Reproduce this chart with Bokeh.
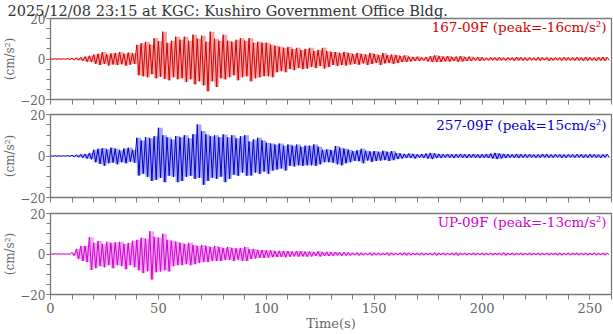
from bokeh.plotting import figure
from bokeh.layouts import column
from bokeh.models import Label, Range1d, FixedTicker
from bokeh.embed import file_html
from bokeh.resources import INLINE

# ---------------- data ----------------
TITLE = "2025/12/08 23:15 at KGC: Kushiro Government Office Bldg."
X_TICKS = [0, 50, 100, 150, 200, 250]
X_MINOR = list(range(0, 261, 10))
Y_TICKS = [-20, 0, 20]
Y_MINOR = list(range(-20, 21, 5))

# 2-second bins starting at t = 0, 2, ..., 258 s
bin_start = list(range(0, 260, 2))

ch1_name = "167-09F (peak=-16cm/s\u00b2)"
ch1_up = [0.1, 0.1, 0.1, 0.1, 0.2, 0.4, 0.6, 0.8, 1.2, 1.6,
          2.2, 2.6, 3.4, 2.4, 2.8, 3.0, 3.5, 2.6, 3.2, 2.8,
          7.0, 7.8, 8.5, 7.2, 10.3, 8.8, 13.5, 8.0, 9.0, 11.0,
          9.5, 11.0, 9.0, 12.0, 10.0, 11.5, 8.5, 13.5, 10.0, 9.0,
          12.0, 9.0, 8.5, 9.5, 10.3, 9.0, 10.3, 8.0, 8.5, 8.0,
          8.0, 7.0, 6.5, 6.0, 5.5, 6.0, 5.0, 5.5, 4.5, 5.0,
          5.5, 4.0, 4.5, 5.5, 4.0, 3.5, 3.5, 3.0, 3.5, 3.0,
          2.5, 3.0, 2.5, 2.2, 3.0, 2.5, 2.0, 3.0, 2.0, 2.2,
          2.0, 1.5, 1.8, 1.2, 1.0, 1.2, 0.8, 1.0, 1.5, 1.8,
          1.5, 1.2, 1.5, 1.0, 1.2, 1.5, 1.0, 1.2, 0.8, 1.0,
          0.8, 0.6, 0.8, 0.7, 0.9, 0.6, 0.8, 0.7, 1.0, 0.8,
          0.7, 0.8, 0.6, 0.9, 0.7, 0.8, 0.6, 0.8, 0.7, 0.9,
          0.8, 0.7, 0.9, 0.7, 1.0, 0.8, 0.7, 0.9, 1.0, 0.8]
ch1_lo = [-0.1, -0.1, -0.1, -0.1, -0.2, -0.4, -0.6, -0.9, -1.3, -1.5,
          -2.4, -3.0, -2.5, -3.2, -2.7, -3.0, -2.6, -3.3, -2.8, -2.5,
          -8.0, -8.5, -9.0, -7.5, -9.5, -8.8, -9.8, -10.5, -9.0, -10.0,
          -9.5, -11.4, -10.0, -12.5, -11.0, -13.0, -15.9, -11.0, -13.8, -9.5,
          -10.0, -9.0, -8.0, -10.5, -9.0, -8.5, -11.0, -9.5, -9.0, -8.5,
          -8.5, -9.0, -6.5, -6.0, -6.5, -5.0, -5.5, -4.5, -5.0, -4.7,
          -4.0, -4.5, -3.5, -4.7, -4.0, -3.0, -3.5, -3.0, -3.2, -2.8,
          -2.5, -2.8, -2.2, -3.0, -2.5, -2.0, -3.0, -2.2, -2.0, -2.5,
          -2.0, -1.5, -1.5, -1.2, -1.0, -1.0, -0.8, -1.2, -1.5, -1.5,
          -1.5, -1.2, -1.3, -1.0, -1.4, -1.2, -1.0, -1.0, -0.8, -1.0,
          -0.8, -0.7, -0.6, -0.8, -0.7, -0.8, -0.6, -0.9, -0.7, -0.8,
          -0.8, -0.6, -0.7, -0.8, -0.6, -0.9, -0.7, -0.6, -0.8, -0.7,
          -0.7, -0.8, -0.7, -0.9, -0.8, -0.7, -0.9, -0.8, -0.9, -0.7]

ch2_name = "257-09F (peak=15cm/s\u00b2)"
ch2_up = [0.1, 0.1, 0.1, 0.1, 0.2, 0.4, 0.6, 0.8, 1.0, 1.5,
          3.0, 3.5, 3.8, 3.2, 4.0, 3.5, 2.8, 3.6, 4.0, 3.0,
          8.8, 7.5, 9.0, 8.5, 9.5, 13.6, 10.0, 9.0, 8.0, 9.6,
          9.0, 10.0, 8.5, 10.5, 15.2, 12.0, 10.4, 9.5, 10.0, 9.0,
          10.4, 9.0, 10.0, 8.5, 9.5, 10.0, 7.0, 8.0, 8.8, 7.5,
          6.4, 6.0, 5.5, 6.0, 5.0, 5.6, 5.0, 5.5, 4.5, 5.0,
          5.0, 5.6, 4.5, 3.0, 3.2, 2.8, 4.8, 4.0, 3.5, 3.0,
          2.4, 2.8, 3.5, 2.5, 2.2, 2.4, 2.0, 2.5, 2.0, 2.4,
          1.5, 1.2, 1.0, 1.2, 1.0, 0.9, 1.0, 1.2, 1.5, 1.2,
          1.0, 0.9, 1.0, 0.8, 0.9, 1.0, 0.8, 0.9, 1.0, 0.8,
          0.9, 1.0, 1.2, 1.5, 1.2, 1.0, 0.9, 0.8, 1.0, 0.9,
          0.8, 0.9, 0.7, 0.8, 1.0, 0.8, 0.7, 0.9, 0.8, 0.7,
          0.8, 0.7, 0.9, 0.8, 0.7, 0.9, 0.8, 0.7, 0.8, 0.9]
ch2_lo = [-0.1, -0.1, -0.1, -0.1, -0.2, -0.4, -0.6, -0.8, -1.2, -1.6,
          -3.0, -3.8, -4.7, -3.5, -3.2, -4.0, -3.0, -3.5, -2.8, -3.2,
          -9.4, -8.5, -10.0, -12.0, -11.5, -10.5, -12.6, -9.5, -10.0, -12.6,
          -12.0, -10.0, -9.5, -11.0, -10.5, -13.9, -12.0, -10.5, -11.0, -10.0,
          -12.6, -11.0, -9.0, -9.5, -8.0, -9.5, -9.4, -8.0, -8.6, -7.5,
          -8.6, -7.0, -6.5, -6.0, -7.0, -4.7, -5.0, -4.5, -4.7, -4.5,
          -4.5, -4.7, -4.0, -3.0, -3.0, -3.2, -4.0, -4.5, -3.5, -3.0,
          -2.4, -2.5, -3.5, -2.2, -2.8, -2.4, -2.2, -2.0, -2.4, -2.0,
          -1.5, -1.2, -1.0, -1.0, -1.2, -0.9, -1.0, -1.2, -1.5, -1.0,
          -1.0, -0.8, -0.9, -1.0, -0.8, -0.9, -1.0, -0.8, -0.9, -1.0,
          -0.9, -1.0, -1.2, -1.5, -1.2, -1.0, -0.8, -0.9, -1.0, -0.8,
          -0.8, -0.7, -0.9, -0.8, -0.7, -0.9, -0.8, -0.7, -0.9, -0.8,
          -0.7, -0.8, -0.7, -0.9, -0.8, -0.7, -0.8, -0.9, -0.7, -0.8]

ch3_name = "UP-09F (peak=-13cm/s\u00b2)"
ch3_up = [0.1, 0.1, 0.1, 0.1, 0.1, 0.8, 2.5, 4.0, 4.0, 8.3,
          5.5, 6.4, 5.0, 6.0, 5.5, 5.8, 6.0, 5.0, 5.5, 6.5,
          7.0, 8.0, 7.5, 11.2, 8.5, 8.0, 10.0, 7.0, 6.5, 6.0,
          5.5, 5.0, 5.5, 4.5, 4.0, 4.5, 4.0, 3.5, 4.0, 3.5,
          3.0, 3.5, 3.0, 2.8, 3.0, 3.5, 2.5, 2.5, 2.0, 2.0,
          1.8, 1.8, 1.5, 1.6, 1.5, 1.5, 1.2, 1.5, 1.3, 1.2,
          1.2, 1.0, 1.3, 1.0, 1.1, 0.9, 1.0, 0.8, 0.9, 0.8,
          0.6, 0.7, 0.6, 0.5, 0.7, 0.6, 0.6, 0.5, 0.7, 0.6,
          0.5, 0.6, 0.7, 0.6, 0.5, 0.6, 0.6, 0.5, 0.6, 0.7,
          0.5, 0.6, 0.5, 0.6, 0.7, 0.5, 0.6, 0.5, 0.6, 0.5,
          0.6, 0.5, 0.6, 0.5, 0.6, 0.7, 0.5, 0.6, 0.5, 0.6,
          0.5, 0.6, 0.5, 0.6, 0.5, 0.6, 0.5, 0.6, 0.6, 0.5,
          0.6, 0.5, 0.6, 0.5, 0.6, 0.5, 0.6, 0.5, 0.6, 0.5]
ch3_lo = [-0.1, -0.1, -0.1, -0.1, -0.1, -0.8, -2.5, -3.5, -4.0, -7.9,
          -7.0, -6.0, -6.5, -5.5, -7.0, -5.5, -6.0, -7.5, -5.5, -6.5,
          -8.0, -9.4, -8.5, -12.6, -9.0, -8.6, -8.0, -8.6, -6.0, -5.5,
          -5.5, -5.0, -5.5, -5.0, -4.5, -4.0, -4.0, -3.5, -3.5, -3.5,
          -3.0, -3.0, -3.5, -2.8, -3.5, -3.5, -2.5, -2.2, -2.0, -2.0,
          -1.8, -1.6, -1.5, -1.5, -1.6, -1.4, -1.2, -1.3, -1.2, -1.3,
          -1.2, -1.0, -1.2, -1.0, -1.0, -0.9, -0.8, -0.9, -0.8, -0.8,
          -0.6, -0.7, -0.6, -0.5, -0.7, -0.6, -0.6, -0.5, -0.7, -0.6,
          -0.5, -0.6, -0.7, -0.6, -0.5, -0.6, -0.6, -0.5, -0.6, -0.7,
          -0.5, -0.6, -0.5, -0.6, -0.7, -0.5, -0.6, -0.5, -0.6, -0.5,
          -0.6, -0.5, -0.6, -0.5, -0.6, -0.7, -0.5, -0.6, -0.5, -0.6,
          -0.5, -0.6, -0.5, -0.6, -0.5, -0.6, -0.5, -0.6, -0.6, -0.5,
          -0.6, -0.5, -0.6, -0.5, -0.6, -0.5, -0.6, -0.5, -0.6, -0.5]

COLORS = ["#d40000", "#0000d0", "#d000d0"]

# ---------------- layout ----------------
FONT = "DejaVu Serif"
W = 613
LEFT = 50
RIGHT = 2
FRAME_H = 83
GRAY = "#7a7a7a"
TXT = "#666666"


def zigzag(starts, up, lo):
    xs, ys = [], []
    for t, a, b in zip(starts, up, lo):
        xs.extend([t, t + 1])
        ys.extend([a, b])
    return xs, ys


def make_panel(name, up, lo, color, top, bottom, first=False, last=False):
    p = figure(width=W, height=top + FRAME_H + bottom,
               x_range=Range1d(0, 260), y_range=Range1d(-20, 20),
               output_backend="svg", toolbar_location=None,
               min_border_left=LEFT, min_border_right=RIGHT,
               min_border_top=top, min_border_bottom=bottom)
    p.grid.visible = False
    p.outline_line_color = GRAY
    p.outline_line_width = 1.3
    p.background_fill_color = "white"
    p.border_fill_color = "white"

    # envelope band (each bin's min..max) plus the oscillating trace
    p.varea_step(x=bin_start, y1=lo, y2=up, fill_color=color, fill_alpha=0.35,
                 step_mode="after")
    xs, ys = zigzag(bin_start, up, lo)
    p.line(xs, ys, line_color=color, line_width=1)

    for ax in (p.xaxis[0], p.yaxis[0]):
        ax.axis_line_color = None
        ax.major_tick_line_color = GRAY
        ax.minor_tick_line_color = GRAY
        ax.major_tick_in = 0
        ax.minor_tick_in = 0
        ax.major_label_text_font = FONT
        ax.major_label_text_color = TXT
    p.xaxis.major_label_text_font_size = "13px"
    p.xaxis.major_label_standoff = 3
    p.xaxis.major_tick_out = 5
    p.xaxis.minor_tick_out = 5
    p.yaxis.major_label_text_font_size = "12px"
    p.yaxis.major_label_standoff = 1
    p.yaxis.major_tick_out = 4
    p.yaxis.minor_tick_out = 4
    p.yaxis.ticker = FixedTicker(ticks=Y_TICKS, minor_ticks=Y_MINOR)
    p.yaxis.axis_label = "(cm/s\u00b2)"
    p.yaxis.axis_label_text_font = FONT
    p.yaxis.axis_label_text_font_size = "12px"
    p.yaxis.axis_label_text_font_style = "normal"
    p.yaxis.axis_label_text_color = TXT
    p.yaxis.axis_label_standoff = 0
    if not last:
        p.xaxis.ticker = FixedTicker(ticks=[], minor_ticks=X_MINOR)
    else:
        p.xaxis.ticker = FixedTicker(ticks=X_TICKS, minor_ticks=X_MINOR)
        p.xaxis.axis_label = "Time(s)"
        p.xaxis.axis_label_text_font = FONT
        p.xaxis.axis_label_text_font_size = "13px"
        p.xaxis.axis_label_text_font_style = "normal"
        p.xaxis.axis_label_text_color = TXT
        p.xaxis.axis_label_standoff = 0

    # channel annotation (inside the frame, top right), anchored to the right end
    p.add_layout(Label(x=260, y=FRAME_H - 2, x_units="data", y_units="screen",
                       x_offset=-5, text=name, text_align="right", text_baseline="top",
                       text_font=FONT, text_font_size="13.5px", text_color=color))
    if first:
        p.title.text = TITLE
        p.title.align = "left"
        p.title.offset = -LEFT + 7
        p.title.standoff = 0
        p.title.text_font = FONT
        p.title.text_font_size = "14.5px"
        p.title.text_font_style = "normal"
        p.title.text_color = "#333333"
    return p


p1 = make_panel(ch1_name, ch1_up, ch1_lo, COLORS[0], 16, 8, first=True)
p2 = make_panel(ch2_name, ch2_up, ch2_lo, COLORS[1], 7, 8)
p3 = make_panel(ch3_name, ch3_up, ch3_lo, COLORS[2], 8, 37, last=True)

layout = column(p1, p2, p3, spacing=0)
open("out.html", "w").write(file_html(layout, INLINE))
